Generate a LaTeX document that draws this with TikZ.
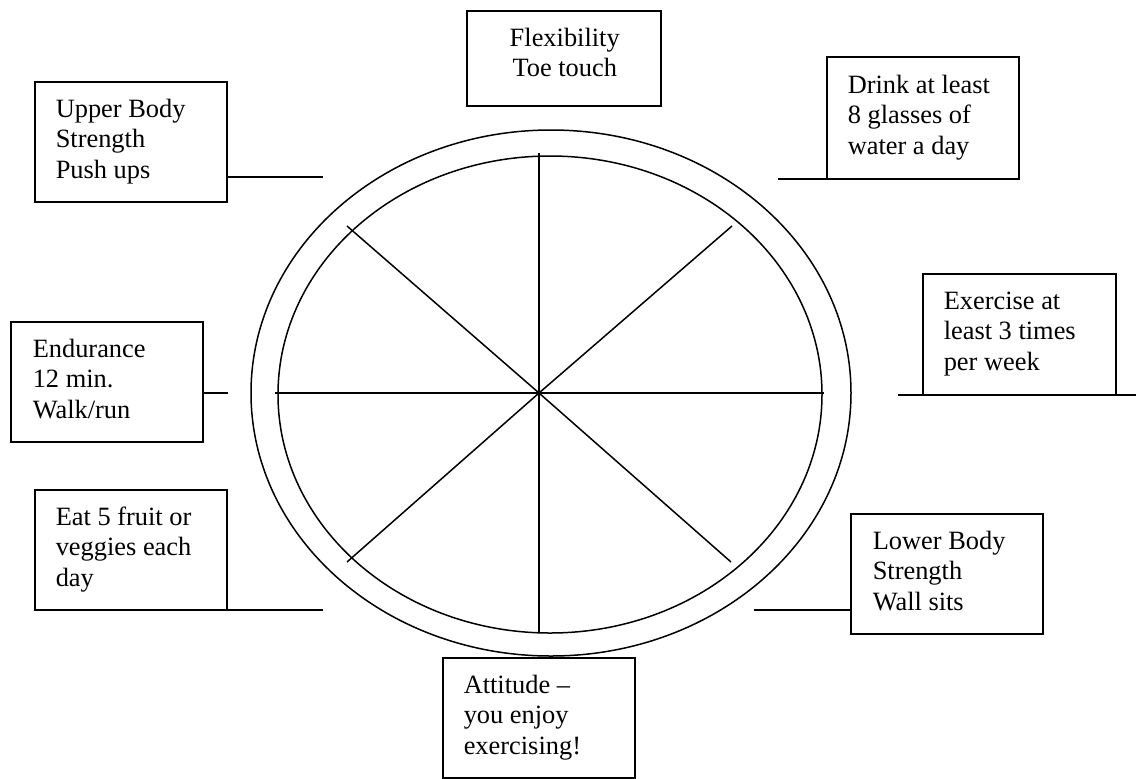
\documentclass[tikz,border=0pt]{standalone}
\usepackage{fontspec}
\setmainfont{Liberation Serif}
\newcommand\wlines[1]{\parbox[t]{95pt}{\raggedright #1}}
\newcommand\wcenter[1]{\parbox[t]{97pt}{\centering #1}}
\begin{document}
\begin{tikzpicture}[x=0.5pt,y=-0.5pt,line width=0.75pt,
  wbox/.style={draw,line width=0.75pt,inner sep=0pt,outer sep=0pt,anchor=north west,minimum width=96pt,minimum height=60pt},
  wtxt/.style={inner sep=0pt,anchor=base west,font=\fontsize{13.2pt}{15.25pt}\selectfont}]
\useasboundingbox (0,0) rectangle (1136,778);
% wheel
\draw (551,393) ellipse [x radius=300, y radius=263];
\draw (550,394.5) ellipse [x radius=272, y radius=238.5];
\coordinate (c) at (539,393);
\coordinate (sN) at (539,153);
\coordinate (sS) at (539,633);
\coordinate (sW) at (275,393);
\coordinate (sE) at (824,393);
\coordinate (sNW) at (347,226);
\coordinate (sSW) at (347,562);
\coordinate (sNE) at (732,226);
\coordinate (sSE) at (731,562);
\foreach \e in {sN,sS,sW,sE,sNW,sSW,sNE,sSE} \draw (c) -- (\e);
% boxes
\node[wbox] (ub) at (35,82) {};
\node[wbox] (en) at (11,322) {};
\node[wbox] (eat) at (35,490) {};
\node[wbox,minimum width=97pt,minimum height=47.5pt] (fx) at (467,11) {};
\node[wbox,minimum height=61pt] (dr) at (827,57) {};
\node[wbox,minimum width=96.5pt,minimum height=60.5pt] (ex) at (923,274) {};
\node[wbox] (lb) at (851,514) {};
\node[wbox] (at) at (443,658) {};
% texts
\node[wtxt] (ubt) at (55,117) {\wlines{Upper Body\\Strength\\Push ups}};
\node[wtxt] (ent) at (32,357) {\wlines{Endurance\\12 min.\\Walk/run}};
\node[wtxt] (eatt) at (55,525) {\wlines{Eat 5 fruit or\\veggies each\\day}};
\node[wtxt] (fxt) at (467,46) {\wcenter{Flexibility\\Toe touch}};
\node[wtxt] (drt) at (847,93) {\wlines{Drink at least\\8 glasses of\\water a day}};
\node[wtxt] (ext) at (943,309) {\wlines{Exercise at\\least 3 times\\per week}};
\node[wtxt] (lbt) at (872,549) {\wlines{Lower Body\\Strength\\Wall sits}};
\node[wtxt] (att) at (463,693) {\wlines{Attitude --\\you enjoy\\exercising!}};
% connectors
\coordinate (ubend) at (323,177);
\draw (ub.east |- ubend) -- (ubend);
\coordinate (enend) at (228,393);
\draw (en.east |- enend) -- (enend);
\coordinate (eatend) at (323,610);
\draw (eat.south east) -- (eatend);
\coordinate (drend) at (778,179);
\draw (drend) -- (dr.south west);
\coordinate (exl) at (898,395);
\coordinate (exr) at (1136,395);
\draw (exl) -- (ex.south west);
\draw (ex.south east) -- (exr);
\coordinate (lbend) at (754,610);
\draw (lbend) -- (lb.west |- lbend);
\end{tikzpicture}
\end{document}
